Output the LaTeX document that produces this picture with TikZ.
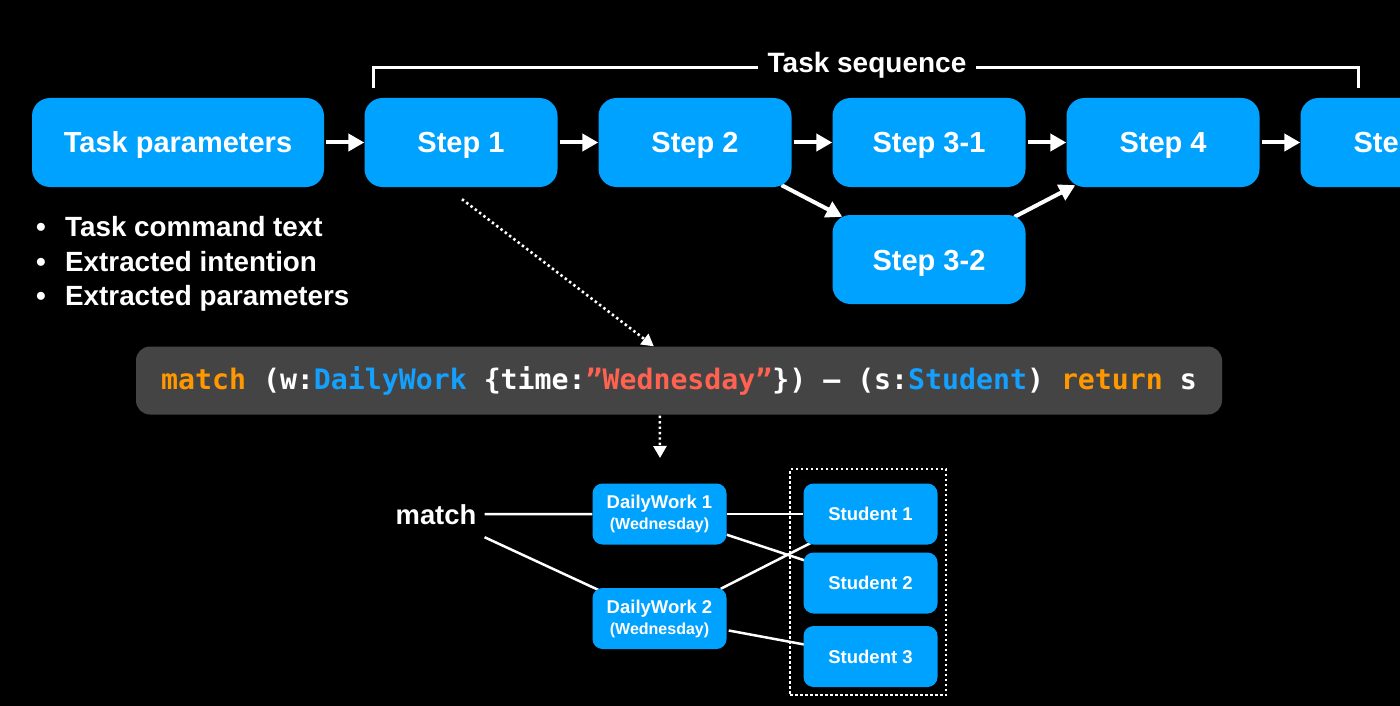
\documentclass[tikz,border=0pt]{standalone}
\usepackage{fontspec}
\setmainfont{Liberation Sans}
\newfontfamily\codefont{DejaVu Sans Mono}
\usetikzlibrary{arrows.meta,calc}
\definecolor{boxblue}{RGB}{0,162,255}
\definecolor{codegray}{RGB}{68,68,68}
\definecolor{codeorange}{RGB}{255,152,0}
\definecolor{codeblue}{RGB}{20,160,255}
\definecolor{codered}{RGB}{255,98,80}
\pgfdeclarelayer{bg}
\pgfsetlayers{bg,main}
\tikzset{
  stepbox/.style={fill=boxblue, rounded corners=18pt, minimum width=193pt, minimum height=89pt,
    text=white, font=\fontsize{29}{34}\selectfont\bfseries, inner sep=0pt, text height=21pt, text depth=0pt},
  smallbox/.style={fill=boxblue, rounded corners=10pt, minimum width=134pt, minimum height=61pt,
    text=white, font=\fontsize{18.5}{21}\selectfont\bfseries, align=center, inner sep=0pt},
  flow/.style={white, line width=4pt, shorten <=2pt, -{Triangle[length=16pt,width=17pt]}},
  dotarrow/.style={white, line width=2.6pt, dash pattern=on 2.4pt off 3pt, -{Triangle[length=12pt,width=13pt]}},
  link/.style={white, line width=2.5pt},
  bracketline/.style={white, line width=3pt},
  bullettext/.style={text=white, font=\fontsize{27.8}{30}\selectfont\bfseries, inner sep=0pt, anchor=base west},
  bulletdot/.style={text=white, font=\fontsize{27.8}{30}\selectfont\bfseries, inner sep=0pt, anchor=base},
}
\begin{document}
\begin{tikzpicture}[x=1pt,y=-1pt]
\useasboundingbox (0,0) rectangle (1400,706);
\clip (0,0) rectangle (1400,706);
\begin{pgfonlayer}{bg}
\fill[black] (0,0) rectangle (1400,706);
\end{pgfonlayer}

% top row
\node[stepbox, minimum width=292pt] (tp) at (178,142.5) {Task parameters};
\node[stepbox] (s1) at (461,142.5) {Step 1};
\node[stepbox] (s2) at (695,142.5) {Step 2};
\node[stepbox] (s31) at (929,142.5) {Step 3-1};
\node[stepbox] (s4) at (1163,142.5) {Step 4};
\node[stepbox] (s5) at (1397,142.5) {Step 5};
\node[stepbox] (s32) at (929,259.5) {Step 3-2};

\draw[flow] (tp.east) -- (s1.west);
\draw[flow] (s1.east) -- (s2.west);
\draw[flow] (s2.east) -- (s31.west);
\draw[flow] (s31.east) -- (s4.west);
\draw[flow] (s4.east) -- (s5.west);
\begin{pgfonlayer}{bg}
\draw[flow] ($(s2.south east)+(-12,-3)$) -- ($(s32.north west)+(10,2)$);
\draw[flow] ($(s32.north east)+(-13,3)$) -- ($(s4.south west)+(9,-2)$);
\end{pgfonlayer}

% task sequence bracket
\node[text=white, font=\fontsize{28}{32}\selectfont\bfseries, inner sep=0pt, anchor=base] (tseq) at (867,73) {Task sequence};
\coordinate (brL) at (373,88);
\coordinate (brR) at (1358,88);
\draw[bracketline] ($(tseq.base west)+(-9,-5.5)$) -| (brL);
\draw[bracketline] ($(tseq.base east)+(9,-5.5)$) -| (brR);

% bullets
\node[bulletdot] (b1) at (41,236.5) {•};
\node[bulletdot] (b2) at (41,271) {•};
\node[bulletdot] (b3) at (41,305.5) {•};
\node[bullettext] (t1) at (65,236.5) {Task command text};
\node[bullettext] (t2) at (65,271) {Extracted intention};
\node[bullettext] (t3) at (65,305.5) {Extracted parameters};

% code bar
\node[fill=codegray, rounded corners=14pt, minimum width=1086pt, minimum height=68pt, inner sep=0pt,
  text=white, font=\fontsize{28.2}{32}\selectfont\codefont\bfseries] (code) at (679,380.5)
  {\textcolor{codeorange}{match} (w:\textcolor{codeblue}{DailyWork} \{time:\textcolor{codered}{”Wednesday”}\}) — (s:\textcolor{codeblue}{Student}) \textcolor{codeorange}{return} s};

\draw[dotarrow] ($(s1.south)+(1,12)$) -- ($(code.north west)+(518,0)$);
\coordinate (qres) at (660,458);
\draw[dotarrow] ($(code.south west)+(524,1)$) -- (qres);

% bottom graph
\node[text=white, font=\fontsize{27.4}{30}\selectfont\bfseries, inner sep=0pt, anchor=base] (mlab) at (436,524) {match};
\node[smallbox] (dw1) at (659.5,514) {DailyWork 1\\[0pt]{\fontsize{16}{19}\selectfont(Wednesday)}};
\node[smallbox] (dw2) at (659.5,618.5) {DailyWork 2\\[0pt]{\fontsize{16}{19}\selectfont(Wednesday)}};
\node[smallbox] (st1) at (870.5,514) {Student 1};
\node[smallbox] (st2) at (870.5,583) {Student 2};
\node[smallbox] (st3) at (870.5,656.5) {Student 3};
\node[draw=white, line width=2.5pt, dash pattern=on 2.5pt off 2.5pt, minimum width=156pt, minimum height=226pt, inner sep=0pt] (grp) at (868,582) {};

\begin{pgfonlayer}{bg}
\draw[link] ($(mlab.east)+(8,0)$) -- (dw1.west);
\draw[link] ($(mlab.east)+(8,23)$) -- ($(dw2.north west)+(8,3)$);
\draw[link] (dw1.east) -- (st1.west);
\draw[link] ($(dw1.south east)+(0,-10)$) -- ($(st2.north west)+(1,8)$);
\draw[link] ($(dw2.north east)+(-6,1)$) -- ($(st1.south west)+(8,-2)$);
\draw[link] ($(dw2.east)+(2,12)$) -- ($(st3.west)+(1,-12)$);
\end{pgfonlayer}
\end{tikzpicture}
\end{document}
